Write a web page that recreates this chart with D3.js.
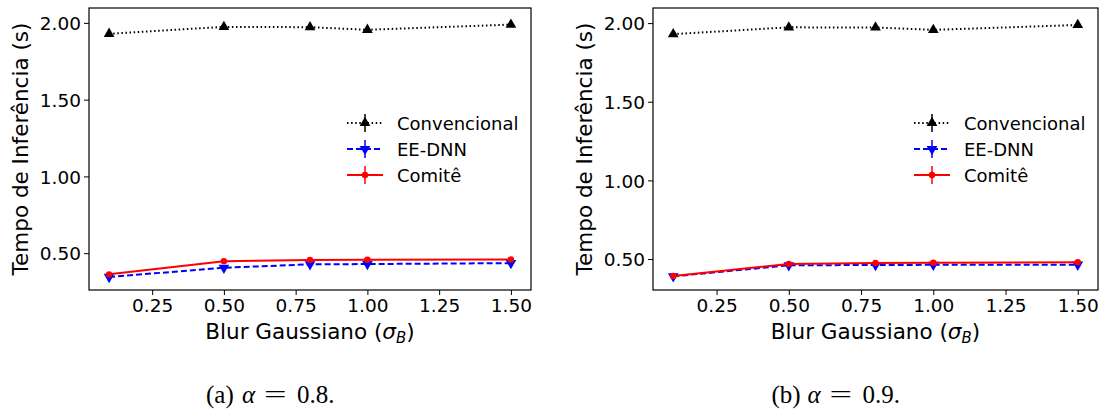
<!DOCTYPE html>
<html>
<head>
<meta charset="utf-8">
<script src="https://cdn.jsdelivr.net/npm/d3@7"></script>
<style>
  body { margin: 0; background: #fff; }
  svg text { font-family: "DejaVu Sans", sans-serif; }
</style>
</head>
<body>
<div id="chart"></div>
<script>
// blur levels on the x axis
var sigma = [0.1, 0.5, 0.8, 1.0, 1.5];
var xTicks = [0.25, 0.50, 0.75, 1.00, 1.25, 1.50];
var yTicks = [0.50, 1.00, 1.50, 2.00];

// (a) alpha = 0.8
var convA   = [1.929, 1.974, 1.972, 1.955, 1.989];
var eednnA  = [0.345, 0.405, 0.427, 0.429, 0.435];
var comiteA = [0.362, 0.448, 0.455, 0.457, 0.459];

// (b) alpha = 0.9
var convB   = [1.930, 1.973, 1.972, 1.957, 1.988];
var eednnB  = [0.390, 0.460, 0.462, 0.463, 0.464];
var comiteB = [0.392, 0.468, 0.475, 0.477, 0.479];

var seriesNames = ["Convencional", "EE-DNN", "Comitê"];
var captions = [["(a)", "α", "=", "0.8."], ["(b)", "α", "=", "0.9."]];

var width = 1105, height = 412;

var svg = d3.select("#chart")
            .append("svg")
            .attr("width", width)
            .attr("height", height);

var styles = [
  { color: "black", dash: "1.5,2.6", marker: "up" },
  { color: "blue",  dash: "6,3",     marker: "down" },
  { color: "red",   dash: null,      marker: "dot" }
];

var drawMarker = function(g, type, color, x, y) {
  if (type === "dot") {
    g.append("circle").attr("cx", x).attr("cy", y).attr("r", 3.2).attr("fill", color);
  } else {
    var sym = d3.symbol().type(d3.symbolTriangle).size(50);
    g.append("path")
     .attr("d", sym())
     .attr("fill", color)
     .attr("transform", "translate(" + x + "," + y + ")" + (type === "down" ? " rotate(180)" : ""));
  }
};

var panel = function(left, right, yDomain, data, caption) {
  var top = 8, bottom = 290;
  var x = d3.scaleLinear().domain([0.03, 1.57]).range([left, right]);
  var y = d3.scaleLinear().domain(yDomain).range([bottom, top]);

  var g = svg.append("g");

  // axes
  g.append("g")
   .attr("transform", "translate(0," + bottom + ")")
   .call(d3.axisBottom(x).tickValues(xTicks).tickFormat(d3.format(".2f")).tickSize(5).tickPadding(4))
   .call(function(a) { a.select(".domain").remove(); })
   .selectAll("text").attr("font-size", "18.5px").attr("fill", "#000");

  g.append("g")
   .attr("transform", "translate(" + left + ",0)")
   .call(d3.axisLeft(y).tickValues(yTicks).tickFormat(d3.format(".2f")).tickSize(5).tickPadding(3))
   .call(function(a) { a.select(".domain").remove(); })
   .selectAll("text").attr("font-size", "18.5px").attr("fill", "#000").attr("dy", "0.36em");

  g.selectAll(".tick line").attr("stroke", "#000").attr("stroke-width", 1);

  // frame
  g.append("rect")
   .attr("x", left).attr("y", top)
   .attr("width", right - left).attr("height", bottom - top)
   .attr("fill", "none").attr("stroke", "#000").attr("stroke-width", 1.2);

  // series
  var line = d3.line()
               .x(function(d, i) { return x(sigma[i]); })
               .y(function(d) { return y(d); });

  data.forEach(function(vals, k) {
    var st = styles[k];
    g.append("path")
     .datum(vals)
     .attr("d", line)
     .attr("fill", "none")
     .attr("stroke", st.color)
     .attr("stroke-width", 2)
     .attr("stroke-dasharray", st.dash);
    vals.forEach(function(v, i) { drawMarker(g, st.marker, st.color, x(sigma[i]), y(v)); });
  });

  // legend
  var lx = right - 184, ly = 123;
  seriesNames.forEach(function(name, k) {
    var st = styles[k], yy = ly + k * 26;
    g.append("line")
     .attr("x1", lx).attr("x2", lx + 36).attr("y1", yy).attr("y2", yy)
     .attr("stroke", st.color).attr("stroke-width", 2)
     .attr("stroke-dasharray", st.dash);
    g.append("line")
     .attr("x1", lx + 18).attr("x2", lx + 18).attr("y1", yy - 9).attr("y2", yy + 9)
     .attr("stroke", st.color).attr("stroke-width", 1.5);
    drawMarker(g, st.marker, st.color, lx + 18, yy);
    g.append("text")
     .attr("x", lx + 50).attr("y", yy + 6.5)
     .attr("font-size", "18px")
     .text(name);
  });

  // axis titles
  var xl = g.append("text")
            .attr("x", (left + right) / 2).attr("y", 339)
            .attr("text-anchor", "middle")
            .attr("font-size", "21.5px");
  xl.append("tspan").text("Blur Gaussiano (");
  xl.append("tspan").attr("font-style", "italic").text("σ");
  xl.append("tspan").attr("font-style", "italic").attr("font-size", "15px").attr("dy", 4).text("B");
  xl.append("tspan").attr("dy", -4).text(")");

  g.append("text")
   .attr("transform", "translate(" + (left - 61) + "," + ((top + bottom) / 2) + ") rotate(-90)")
   .attr("text-anchor", "middle")
   .attr("font-size", "21.5px")
   .text("Tempo de Inferência (s)");

  // caption (LaTeX-like sub-caption)
  var cx = (left + right) / 2 - 104;
  var offs = [0, 36, 58, 91];
  var sx = [1, 1, 1.6, 1];
  caption.forEach(function(part, i) {
    g.append("text")
     .attr("transform", "translate(" + (cx + offs[i]) + ",403) scale(" + sx[i] + ",1)")
     .style("font-family", "'Liberation Serif', serif")
     .attr("font-size", "25px")
     .attr("font-style", i === 1 ? "italic" : null)
     .text(part);
  });
};

panel(89, 531, [0.26, 2.097], [convA, eednnA, comiteA], captions[0]);
panel(653, 1098, [0.303, 2.096], [convB, eednnB, comiteB], captions[1]);
</script>
</body>
</html>
